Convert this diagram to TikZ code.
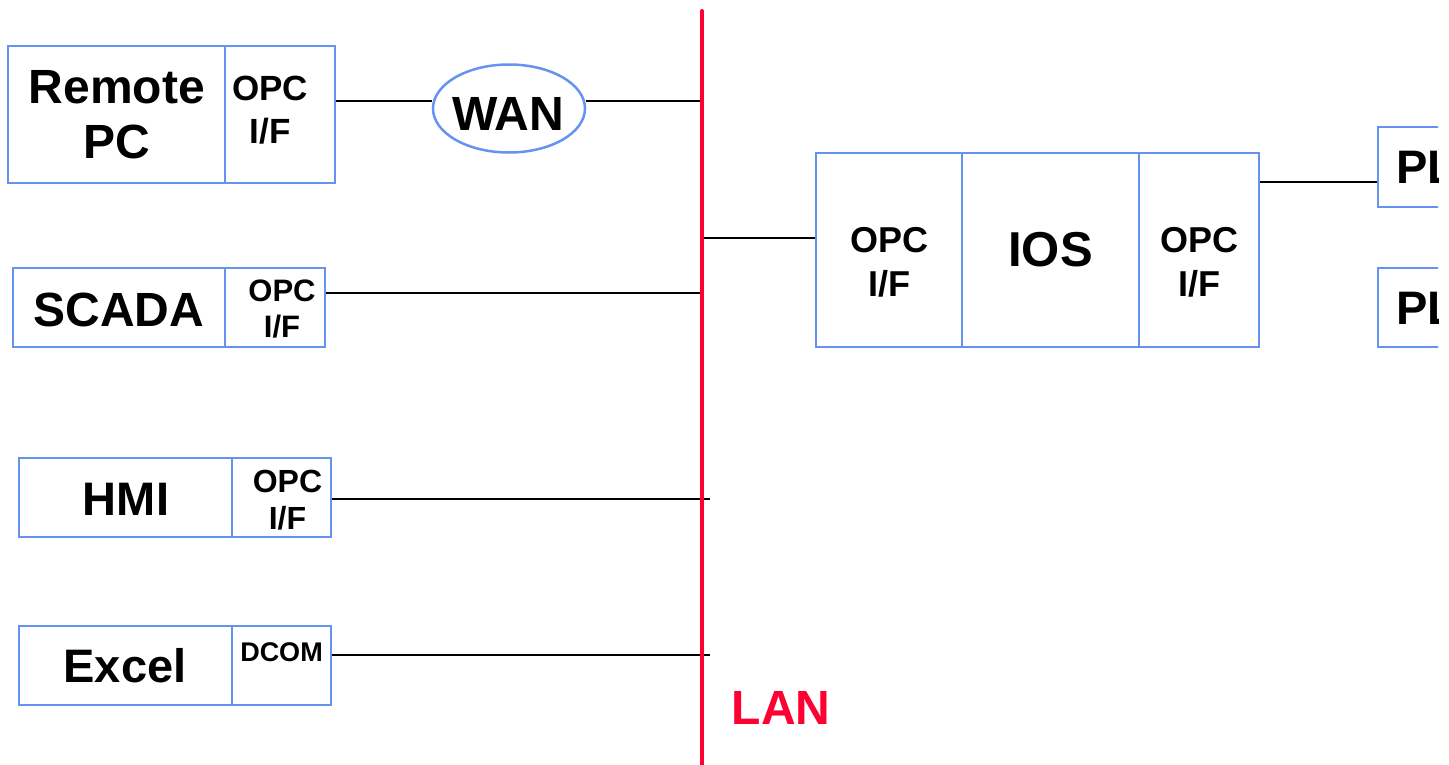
\documentclass[tikz,border=0pt]{standalone}
\usepackage{fontspec}
\setmainfont{Liberation Sans}
\usetikzlibrary{shapes.geometric}
\definecolor{boxblue}{RGB}{102,146,240}
\definecolor{lanred}{RGB}{255,0,51}
\newcommand{\myfs}[2]{\fontsize{#1}{#2}\selectfont\bfseries}
\begin{document}
\begin{tikzpicture}[x=1pt,y=-1pt,
  cell/.style={draw=boxblue,line width=2.5pt,rectangle,inner sep=0pt},
  txt/.style={inner sep=0pt,align=center},
  big/.style={txt,font=\myfs{47}{55}},
  wire/.style={line width=2pt,black},
  lanline/.style={line width=4pt,lanred,line cap=round}]
\useasboundingbox (0,0) rectangle (1449,764);
\clip (0,0) rectangle (1438,764);

% LAN bus
\coordinate (lan-top) at (702,11);
\coordinate (lan-bot) at (702,770);
\coordinate (lanr) at (710,0);

% Remote PC
\node[cell,minimum width=217pt,minimum height=137pt] (remote) at (116.5,114.5) {};
\node[cell,minimum width=110pt,minimum height=137pt] (remote-if) at (280,114.5) {};
\node[big,font=\myfs{48}{55}] (remote-t) at (117,115) {Remote\\PC};
\node[txt,font=\myfs{35}{43}] (remote-if-t) at (270,110) {OPC\\I/F};

% WAN
\node[ellipse,draw=boxblue,line width=2.5pt,inner sep=0pt,minimum width=152pt,minimum height=88pt] (wan) at (509,108.5) {};
\node[big,font=\myfs{48}{55}] (wan-t) at (508,113.5) {WAN};

% SCADA
\node[cell,minimum width=212pt,minimum height=79pt] (scada) at (119,307.5) {};
\node[cell,minimum width=100pt,minimum height=79pt] (scada-if) at (275,307.5) {};
\node[big,font=\myfs{48}{55}] (scada-t) at (119,309.5) {SCADA};
\node[txt,font=\myfs{31}{36}] (scada-if-t) at (282,309) {OPC\\I/F};

% HMI
\node[cell,minimum width=213pt,minimum height=79pt] (hmi) at (125.5,497.5) {};
\node[cell,minimum width=99pt,minimum height=79pt] (hmi-if) at (281.5,497.5) {};
\node[big] (hmi-t) at (126,499.5) {HMI};
\node[txt,font=\myfs{32}{37}] (hmi-if-t) at (287.5,500) {OPC\\I/F};

% Excel
\node[cell,minimum width=213pt,minimum height=79pt] (excel) at (125.5,665.5) {};
\node[cell,minimum width=99pt,minimum height=79pt] (excel-if) at (281.5,665.5) {};
\node[big] (excel-t) at (125,665.5) {Excel};
\node[txt,font=\myfs{27}{32}] (excel-if-t) at (281.5,652) {DCOM};

% IOS
\node[cell,minimum width=146pt,minimum height=194pt] (ios-l) at (889,250) {};
\node[cell,minimum width=177pt,minimum height=194pt] (ios) at (1050.5,250) {};
\node[cell,minimum width=120pt,minimum height=194pt] (ios-r) at (1199,250) {};
\node[txt,font=\myfs{36}{44}] (ios-l-t) at (889,262) {OPC\\I/F};
\node[big,font=\myfs{49}{55}] (ios-t) at (1050.5,250) {IOS};
\node[txt,font=\myfs{36}{44}] (ios-r-t) at (1199,262) {OPC\\I/F};

% PLC boxes (cut by the picture edge, as in the reference)
\node[cell,minimum width=122pt,minimum height=80pt] (pl1) at (1439,167) {};
\node[cell,minimum width=122pt,minimum height=79pt] (pl2) at (1439,307.5) {};
\node[txt,font=\myfs{47}{55},anchor=base west] (pl1-t) at (1396,183) {PLC};
\node[txt,font=\myfs{47}{55},anchor=base west] (pl2-t) at (1396,324) {PLC};

% LAN text
\node[big,font=\myfs{48}{55},text=lanred] (lan-t) at (781,708) {LAN};

% connectors
\draw[wire] ([yshift=13.5pt]remote-if.east) coordinate (r1) -- (r1 -| wan.west);
\draw[wire] (r1 -| wan.east) -- (r1 -| lan-top);
\draw[wire] ([yshift=14.5pt]scada-if.east) coordinate (s1) -- (s1 -| lan-top);
\draw[wire] ([yshift=-1.5pt]hmi-if.east) coordinate (h1) -- (h1 -| lanr);
\draw[wire] ([yshift=10.5pt]excel-if.east) coordinate (e1) -- (e1 -| lanr);
\draw[wire] ([yshift=12pt]ios-l.west) coordinate (i1) -- (i1 -| lan-top);
\draw[wire] ([yshift=68pt]ios-r.east) coordinate (p1) -- (p1 -| pl1.west);

\draw[lanline] (lan-top) -- (lan-bot);
\end{tikzpicture}
\end{document}
